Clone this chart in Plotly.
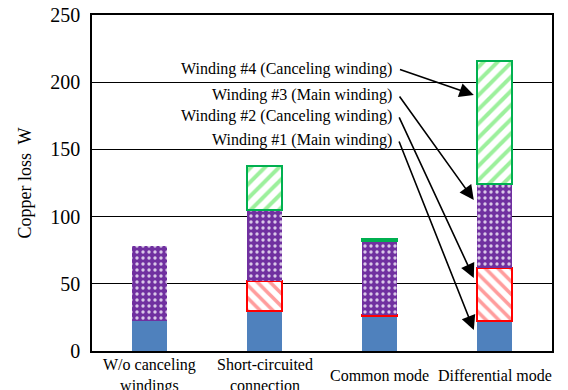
import plotly.graph_objects as go

categories = ["W/o canceling<br>windings", "Short-circuited<br>connection", "Common mode", "Differential mode"]
winding1 = [22, 30, 26, 22]
winding2 = [None, 22, 1, 40]
winding3 = [56, 53, 55, 62]
winding4 = [None, 33, 1, 92]
series_names = ["Winding #1 (Main winding)", "Winding #2 (Canceling winding)",
                "Winding #3 (Main winding)", "Winding #4 (Canceling winding)"]
y_ticks = [0, 50, 100, 150, 200, 250]

FONT = "Times New Roman, Liberation Serif, serif"
BW = 0.31

fig = go.Figure()
fig.add_trace(go.Bar(x=list(range(4)), y=winding1, name=series_names[0], width=BW,
                     marker=dict(color="#4F81BD", line=dict(width=0))))
fig.add_trace(go.Bar(x=list(range(4)), y=winding2, name=series_names[1], width=BW,
                     marker=dict(color="white", line=dict(color="#FF0000", width=2),
                                 pattern=dict(shape="\\", fgcolor="#FF9C9C", bgcolor="white",
                                              size=9, solidity=0.4, fillmode="replace"))))
fig.add_trace(go.Bar(x=list(range(4)), y=winding3, name=series_names[2], width=BW,
                     marker=dict(color="#7030A0", line=dict(width=0),
                                 pattern=dict(shape=".", fgcolor="#D9C8E8", bgcolor="#7030A0",
                                              size=6, solidity=0.25, fillmode="replace"))))
fig.add_trace(go.Bar(x=list(range(4)), y=winding4, name=series_names[3], width=BW,
                     marker=dict(color="white", line=dict(color="#00B050", width=2),
                                 pattern=dict(shape="/", fgcolor="#9CF09C", bgcolor="white",
                                              size=10, solidity=0.4, fillmode="replace"))))

# category labels, vertically centred below the axis
for i, cat in enumerate(categories):
    fig.add_annotation(x=i, y=0, xref="x", yref="paper", yshift=-24, text=cat,
                       showarrow=False, xanchor="center", yanchor="middle",
                       font=dict(family=FONT, size=16, color="black"))

# labels with arrows (text tail at left, arrow head at differential-mode bar)
label_y = [157, 175, 190.5, 209.8]
head_y = [15.6, 54.3, 112.4, 190.5]
tail_y = [157, 174.9, 190.5, 209.8]
for name, ly, hy, ty in zip(series_names, label_y, head_y, tail_y):
    fig.add_annotation(x=2.13, y=ly, xref="x", yref="y", text=name, showarrow=False,
                       xanchor="right", yanchor="middle",
                       font=dict(family=FONT, size=16, color="black"))
    fig.add_annotation(x=2.82, y=hy, ax=2.165, ay=ty, xref="x", yref="y",
                       axref="x", ayref="y", text="", showarrow=True,
                       arrowhead=2, arrowsize=1.8, arrowwidth=1.6, arrowcolor="black")

# page has an 8px body margin: shift margins to compensate
fig.update_layout(
    barmode="stack",
    width=560, height=382,
    margin=dict(l=84, r=16, t=7, b=39, autoexpand=False),
    plot_bgcolor="white", paper_bgcolor="white",
    showlegend=False,
    font=dict(family=FONT, color="black"),
)
fig.update_xaxes(range=[-0.5, 3.5], showline=True, linecolor="black", linewidth=1.5,
                 mirror=True, showgrid=False, ticks="", automargin=False,
                 showticklabels=False)
fig.update_yaxes(range=[0, 250], tickvals=y_ticks, showline=True, linecolor="black",
                 linewidth=1.5, mirror=True, showgrid=True, gridcolor="black", gridwidth=1,
                 ticks="", ticklabelstandoff=6, zeroline=False, automargin=False,
                 ticklabeloverflow="allow",
                 tickfont=dict(family=FONT, size=20, color="black"),
                 title=dict(text="Copper loss  W", standoff=14,
                            font=dict(family=FONT, size=18, color="black")))

fig.write_html("out.html")
